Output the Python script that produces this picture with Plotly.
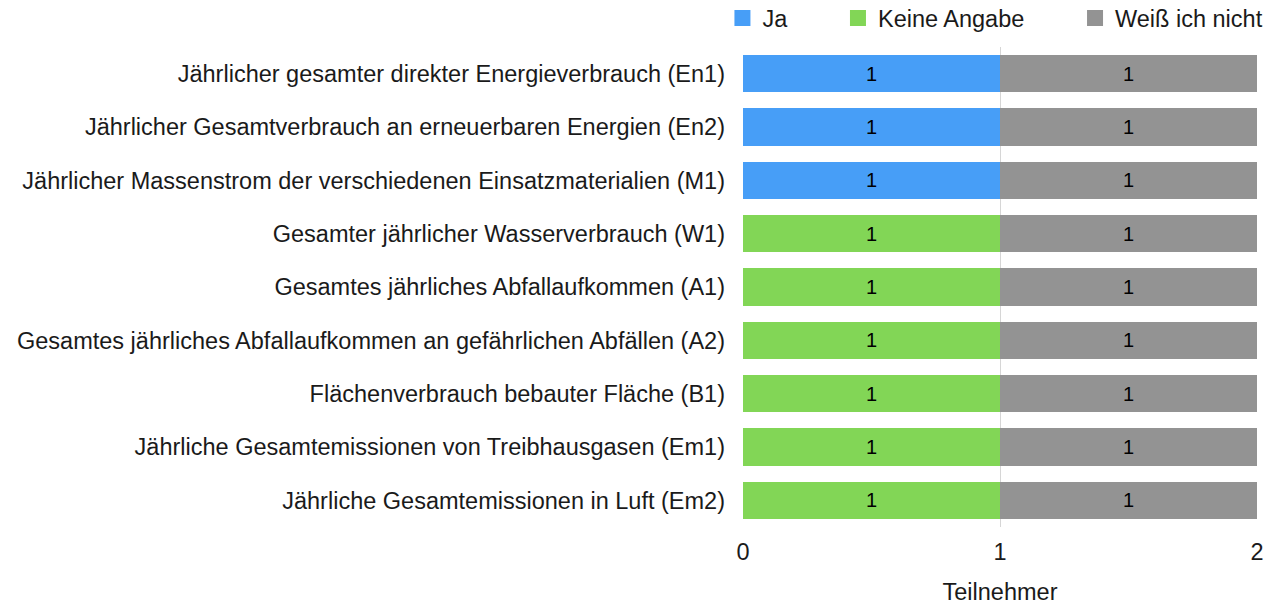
import plotly.graph_objects as go

categories = [
    "Jährlicher gesamter direkter Energieverbrauch (En1)",
    "Jährlicher Gesamtverbrauch an erneuerbaren Energien (En2)",
    "Jährlicher Massenstrom der verschiedenen Einsatzmaterialien (M1)",
    "Gesamter jährlicher Wasserverbrauch (W1)",
    "Gesamtes jährliches Abfallaufkommen (A1)",
    "Gesamtes jährliches Abfallaufkommen an gefährlichen Abfällen (A2)",
    "Flächenverbrauch bebauter Fläche (B1)",
    "Jährliche Gesamtemissionen von Treibhausgasen (Em1)",
    "Jährliche Gesamtemissionen in Luft (Em2)",
]
ja = [1, 1, 1, None, None, None, None, None, None]
keine_angabe = [None, None, None, 1, 1, 1, 1, 1, 1]
weiss_nicht = [1, 1, 1, 1, 1, 1, 1, 1, 1]

series = [
    ("Ja", ja, "#479ef7"),
    ("Keine Angabe", keine_angabe, "#82d656"),
    ("Weiß ich nicht", weiss_nicht, "#939393"),
]

FONT = "Liberation Sans, Arial, sans-serif"
PAD = "\u00a0" * 7  # extra room between legend entries

fig = go.Figure()

for i, (name, vals, color) in enumerate(series):
    fig.add_trace(go.Bar(
        y=categories, x=vals, name=name, orientation="h",
        marker=dict(color=color, line=dict(width=0)),
        text=vals, texttemplate="%{x}", textposition="inside",
        insidetextanchor="middle",
        textfont=dict(size=20, color="black", family=FONT),
        showlegend=False, hoverinfo="y+x+name",
    ))
    # bigger square legend symbols
    fig.add_trace(go.Scatter(
        x=[None], y=[None], mode="markers",
        name=name + (PAD if i < len(series) - 1 else ""),
        marker=dict(symbol="square", size=22, color=color),
    ))

# page body has an 8px margin, so the figure is a bit smaller than the window
fig.update_layout(
    barmode="stack",
    bargap=0.3,
    width=1265, height=597,
    margin=dict(l=735, r=16, t=39, b=78, autoexpand=False),
    plot_bgcolor="white", paper_bgcolor="white",
    font=dict(family=FONT, size=23.5, color="#1a1a1a"),
    legend=dict(
        orientation="h", x=-0.04, xanchor="left", y=1.06, yanchor="middle",
        bgcolor="rgba(0,0,0,0)",
        font=dict(size=23.5), itemsizing="trace",
        traceorder="normal", tracegroupgap=0,
    ),
)

fig.update_xaxes(
    range=[0, 2], tickvals=[0, 1, 2], showgrid=True, gridcolor="#d6d6d6",
    gridwidth=1, zeroline=False, showline=False,
    tickfont=dict(size=23.5), ticks="", ticklabelstandoff=8,
    title=dict(text="Teilnehmer", font=dict(size=23.5), standoff=36),
)
fig.update_yaxes(
    autorange="reversed", showgrid=False, showline=False, ticks="",
    tickfont=dict(size=23.5), ticklabelstandoff=17,
)

fig.write_html("out.html")
